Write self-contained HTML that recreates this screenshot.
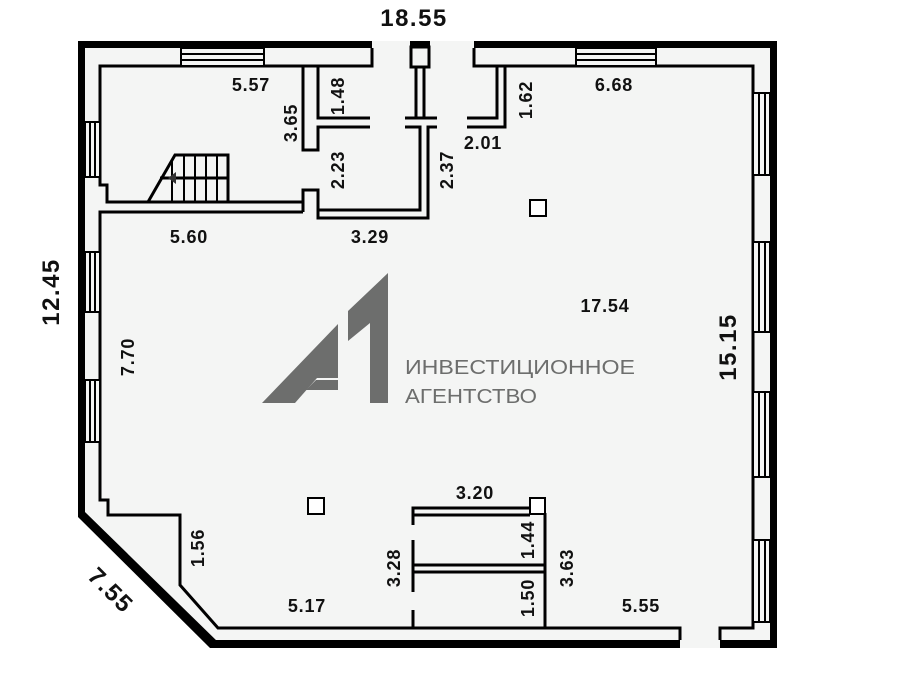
<!DOCTYPE html>
<html><head><meta charset="utf-8"><style>
html,body{margin:0;padding:0;background:#fff;}
svg{display:block}
text{font-family:"Liberation Sans",sans-serif;font-weight:bold;fill:#111;}
</style></head><body>
<svg width="898" height="683" viewBox="0 0 898 683" xmlns="http://www.w3.org/2000/svg">
<rect width="898" height="683" fill="#fff"/>
<polygon points="80,41 777,41 777,648 215,648 80,515" fill="#f4f5f4"/>
<g fill="#000">
<rect x="78" y="41" width="294" height="7"/>
<rect x="474" y="41" width="303" height="7"/>
<rect x="770" y="41" width="7" height="607"/>
<rect x="78" y="41" width="7" height="474"/>
<rect x="720" y="640" width="57" height="8"/>
<rect x="215" y="640" width="465" height="8"/>
<polygon points="78,512 85,512 220,644 215,648 210,648 78,517"/>
<rect x="410" y="41" width="20" height="6"/>
</g>
<g fill="none" stroke="#000" stroke-width="3">
<polyline points="372,48 372,66 100,66 100,185 107,185 107,202 303,202"/>
<polyline points="474,48 474,66 753,66 753,628 720,628 720,640"/>
<polyline points="680,640 680,628 218,628 180,585 180,515 108,515 108,500 100,500 100,212 303,212"/>
<rect x="411" y="47" width="18" height="20"/>
<polyline points="303,212 303,190 318,190 318,218 428,218 428,127 437,127"/>
<polyline points="318,210 420,210 420,127 405,127"/>
<polyline points="405,118 437,118"/>
<polyline points="303,66 303,150 318,150 318,127 370,127"/>
<polyline points="318,66 318,118 370,118"/>
<polyline points="416,67 416,118"/><polyline points="424,67 424,118"/>
<polyline points="497,66 497,118 467,118"/>
<polyline points="505,66 505,127 467,127"/>
<polyline points="148,202 175,155 228,155 228,202"/>
<line x1="160" y1="178" x2="228" y2="178"/>
<line x1="184" y1="155" x2="184" y2="202" stroke-width="2"/>
<line x1="195" y1="155" x2="195" y2="202" stroke-width="2"/>
<line x1="206" y1="155" x2="206" y2="202" stroke-width="2"/>
<line x1="217" y1="155" x2="217" y2="202" stroke-width="2"/>
<line x1="172" y1="160" x2="172" y2="202" stroke-width="2"/>
<polyline points="413,525 413,508 530,508"/>
<polyline points="413,515 530,515"/>
<line x1="413" y1="540" x2="413" y2="592"/>
<line x1="413" y1="610" x2="413" y2="628"/>
<line x1="413" y1="565" x2="545" y2="565"/>
<line x1="413" y1="572" x2="545" y2="572"/>
<line x1="545" y1="513" x2="545" y2="628"/>
</g>
<g fill="none" stroke="#000" stroke-width="2">
<rect x="181" y="48" width="83" height="18" fill="#f4f5f4"/>
<line x1="181" y1="54" x2="264" y2="54"/><line x1="181" y1="60" x2="264" y2="60"/>
<rect x="576" y="48" width="80" height="18" fill="#f4f5f4"/>
<line x1="576" y1="54" x2="656" y2="54"/><line x1="576" y1="60" x2="656" y2="60"/>
<rect x="85" y="122" width="15" height="55" fill="#f4f5f4"/>
<line x1="90" y1="122" x2="90" y2="177"/><line x1="95" y1="122" x2="95" y2="177"/>
<rect x="85" y="252" width="15" height="60" fill="#f4f5f4"/>
<line x1="90" y1="252" x2="90" y2="312"/><line x1="95" y1="252" x2="95" y2="312"/>
<rect x="85" y="380" width="15" height="62" fill="#f4f5f4"/>
<line x1="90" y1="380" x2="90" y2="442"/><line x1="95" y1="380" x2="95" y2="442"/>
<rect x="753" y="93" width="17" height="82" fill="#f4f5f4"/>
<line x1="759" y1="93" x2="759" y2="175"/><line x1="765" y1="93" x2="765" y2="175"/>
<rect x="753" y="242" width="17" height="90" fill="#f4f5f4"/>
<line x1="759" y1="242" x2="759" y2="332"/><line x1="765" y1="242" x2="765" y2="332"/>
<rect x="753" y="392" width="17" height="85" fill="#f4f5f4"/>
<line x1="759" y1="392" x2="759" y2="477"/><line x1="765" y1="392" x2="765" y2="477"/>
<rect x="753" y="540" width="17" height="82" fill="#f4f5f4"/>
<line x1="759" y1="540" x2="759" y2="622"/><line x1="765" y1="540" x2="765" y2="622"/>
<rect x="530" y="200" width="16" height="16" fill="#fff"/>
<rect x="308" y="498" width="16" height="16" fill="#fff"/>
<rect x="530" y="498" width="15" height="16" fill="#fff"/>
</g>
<polygon points="168,178 176,172 176,184" fill="#333"/>
<!-- logo -->
<g fill="#6d6e6d">
<polygon points="262,403 338,324 338,378 317,378 295,403"/>
<polygon points="306,390 316,380 338,380 338,390"/>
<polygon points="348,311 388,273 388,403 370,403 370,323 348,341"/>
</g>
<text x="405" y="374" textLength="230" lengthAdjust="spacingAndGlyphs" style="font-weight:normal;font-size:20px;fill:#6d6e6d">ИНВЕСТИЦИОННОЕ</text>
<text x="405" y="403" textLength="132" lengthAdjust="spacingAndGlyphs" style="font-weight:normal;font-size:20px;fill:#6d6e6d">АГЕНТСТВО</text>
<g font-size="18" text-anchor="middle" letter-spacing="0.8">
<text x="414" y="26" font-size="24" letter-spacing="1.5">18.55</text>
<text x="251" y="91">5.57</text>
<text x="614" y="91">6.68</text>
<text x="483" y="149">2.01</text>
<text x="189" y="243">5.60</text>
<text x="370" y="243">3.29</text>
<text x="605" y="312">17.54</text>
<text x="475" y="499">3.20</text>
<text x="307" y="612">5.17</text>
<text x="641" y="612">5.55</text>
<text transform="translate(297,123) rotate(-90)">3.65</text>
<text transform="translate(344,96) rotate(-90)">1.48</text>
<text transform="translate(344,170) rotate(-90)">2.23</text>
<text transform="translate(453,170) rotate(-90)">2.37</text>
<text transform="translate(532,100) rotate(-90)">1.62</text>
<text transform="translate(134,357) rotate(-90)">7.70</text>
<text transform="translate(204,548) rotate(-90)">1.56</text>
<text transform="translate(400,568) rotate(-90)">3.28</text>
<text transform="translate(534,540) rotate(-90)">1.44</text>
<text transform="translate(534,598) rotate(-90)">1.50</text>
<text transform="translate(573,568) rotate(-90)">3.63</text>
<text transform="translate(59,292) rotate(-90)" font-size="24" letter-spacing="1.5">12.45</text>
<text transform="translate(736,347) rotate(-90)" font-size="24" letter-spacing="1.5">15.15</text>
<text transform="translate(105,596) rotate(45)" font-size="24" letter-spacing="1.5">7.55</text>
</g>
</svg>
</body></html>
